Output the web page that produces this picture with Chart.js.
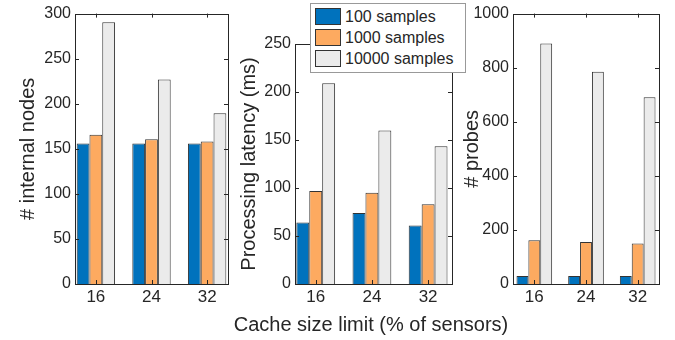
<!DOCTYPE html>
<html>
<head>
<meta charset="utf-8">
<script src="https://cdn.jsdelivr.net/npm/chart.js@4.4.1/dist/chart.umd.min.js"></script>
<style>
    body { margin: 0; background: #fff; }
    #wrap { position: relative; width: 675px; height: 340px; overflow: hidden; font-family: 'Liberation Sans', Arial, sans-serif; color: #262626; }
    canvas { position: absolute; top: 0; }
    #xtitle { position: absolute; left: 0; width: 742px; top: 313px; text-align: center; font-size: 20px; }
    #legend { position: absolute; left: 310px; top: 3px; width: 154px; height: 68px; border: 1px solid #999; background: #fff; }
    .row { position: absolute; left: 4px; height: 17px; font-size: 16px; line-height: 17px; }
    .sw { display: inline-block; width: 24px; height: 15px; border: 1px solid #333; vertical-align: top; margin-right: 4px; }
</style>
</head>
<body>
<div id="wrap">
    <canvas id="c1" width="240" height="340" style="left:0px"></canvas>
    <canvas id="c2" width="240" height="340" style="left:225px"></canvas>
    <canvas id="c3" width="215" height="340" style="left:460px"></canvas>
    <div id="xtitle">Cache size limit (% of sensors)</div>
    <div id="legend"></div>
</div>
<script>
var cacheSizes = [16, 24, 32];
var seriesNames = ['100 samples', '1000 samples', '10000 samples'];
var seriesColors = ['#0072BD', '#FDAA60', '#EBEBEB'];

// # internal nodes
var nodes100 = [156, 156, 156];
var nodes1000 = [165.5, 160.5, 158];
var nodes10000 = [290.5, 227, 189.5];

// processing latency (ms)
var latency100 = [64, 74, 61];
var latency1000 = [97, 95, 83];
var latency10000 = [209, 160, 143.5];

// # probes
var probes100 = [30, 30, 30];
var probes1000 = [162, 155, 150];
var probes10000 = [889, 785, 691];

Chart.defaults.font.family = "'Liberation Sans', Arial, sans-serif";
Chart.defaults.color = '#262626';

// matlab style box with inward ticks
var boxPlugin = {
    id: 'box',
    afterDraw: function(chart)
    {
        var ctx = chart.ctx, a = chart.chartArea, sx = chart.scales.x, sy = chart.scales.y;
        ctx.save();
        ctx.strokeStyle = '#262626';
        ctx.lineWidth = 1;
        ctx.strokeRect(Math.round(a.left) + 0.5, Math.round(a.top) + 0.5, Math.round(a.right - a.left), Math.round(a.bottom - a.top));
        ctx.beginPath();
        sy.ticks.forEach(function(t) {
            var y = Math.round(sy.getPixelForValue(t.value)) + 0.5;
            ctx.moveTo(a.left, y); ctx.lineTo(a.left + 4, y);
            ctx.moveTo(a.right, y); ctx.lineTo(a.right - 4, y);
        });
        sx.ticks.forEach(function(t) {
            var x = Math.round(sx.getPixelForValue(t.value)) + 0.5;
            ctx.moveTo(x, a.bottom); ctx.lineTo(x, a.bottom - 4);
            ctx.moveTo(x, a.top); ctx.lineTo(x, a.top + 4);
        });
        ctx.stroke();
        ctx.restore();
    }
};

function makeSets(values)
{
    return values.map(function(vals, i) {
        return {
            label: seriesNames[i],
            data: cacheSizes.map(function(c, j) { return {x: c, y: vals[j]}; }),
            backgroundColor: seriesColors[i],
            borderColor: '#333',
            borderWidth: 1,
            categoryPercentage: 0.69,
            barPercentage: 1
        };
    });
}

function createChart(id, values, title, yMax, yStep, g)
{
    return new Chart(document.getElementById(id),
    {
        type: 'bar',
        data: { datasets: makeSets(values) },
        plugins: [boxPlugin],
        options: {
            responsive: false,
            animation: false,
            layout: { padding: { left: 0, top: g.top, right: g.right, bottom: 0 } },
            plugins: { legend: { display: false }, tooltip: { enabled: false } },
            scales: {
                x: {
                    type: 'linear',
                    offset: false,
                    min: g.xmin,
                    max: g.xmax,
                    grid: { display: false, drawTicks: false, offset: false },
                    border: { display: false },
                    afterBuildTicks: function(s) { s.ticks = cacheSizes.map(function(v) { return {value: v}; }); },
                    afterFit: function(s) { s.height = 340 - 284; },
                    ticks: { font: { size: 17 }, padding: 3, color: '#262626', callback: function(v) { return String(v); } }
                },
                y: {
                    min: 0,
                    max: yMax,
                    grid: { display: false, drawTicks: false },
                    border: { display: false },
                    afterFit: function(s) { s.width = g.yw; },
                    ticks: { stepSize: yStep, font: { size: 16 }, padding: 4, color: '#262626', callback: function(v) { return String(v); } },
                    title: { display: true, text: title, font: { size: 20 }, padding: { top: g.tp, bottom: 0 }, color: '#262626' }
                }
            }
        }
    });
}

createChart('c1', [nodes100, nodes1000, nodes10000], '# internal nodes', 300, 50,
    { top: 8, right: 12, yw: 75, tp: 16, xmin: 13, xmax: 35 });
createChart('c2', [latency100, latency1000, latency10000], 'Processing latency (ms)', 250, 50,
    { top: 44, right: 13, yw: 70, tp: 12, xmin: 13.05, xmax: 35.4 });
createChart('c3', [probes100, probes1000, probes10000], '# probes', 1000, 200,
    { top: 8, right: 16, yw: 53, tp: 0, xmin: 12.7, xmax: 35.3 });

var legend = document.getElementById('legend');
seriesNames.forEach(function(name, i) {
    var row = document.createElement('div');
    row.className = 'row';
    row.style.top = (4 + i * 21) + 'px';
    row.innerHTML = '<span class="sw" style="background:' + seriesColors[i] + '"></span>' + name;
    legend.appendChild(row);
});
</script>
</body>
</html>
